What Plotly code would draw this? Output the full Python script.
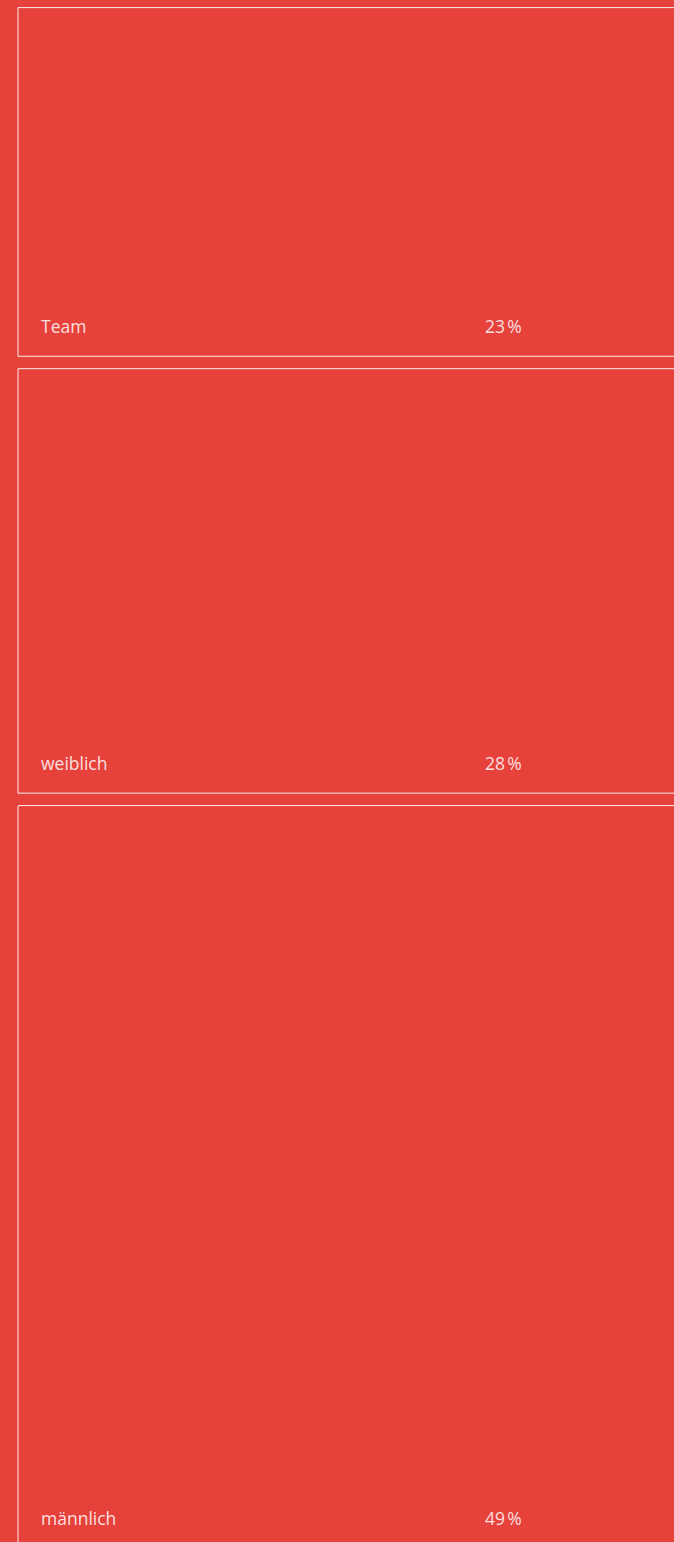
import plotly.graph_objects as go

categories = ["Team", "weiblich", "männlich"]
values = [23, 28, 49]
value_labels = ["23\u202f%", "28\u202f%", "49\u202f%"]

BG = "#E6423B"
LINE = "rgba(255,255,255,0.9)"
TXT = "rgba(255,255,255,0.85)"

px_per_unit = 15.16
gap = 12.4 / px_per_unit
top_px = 7.6
H, W = 1542, 674

bases = []
acc = 0.0
for v in values:
    bases.append(acc)
    acc += v + gap

fig = go.Figure()
fig.add_trace(go.Bar(
    x=[349] * len(values), y=values, base=bases, width=662,
    marker=dict(color="rgba(0,0,0,0)", line=dict(color=LINE, width=1)),
    hoverinfo="skip", showlegend=False,
))

for cat, lab, b, v in zip(categories, value_labels, bases, values):
    yy = b + v - 30.5 / px_per_unit
    fig.add_annotation(x=39, y=yy, text=cat, xanchor="left", yanchor="middle",
                       showarrow=False, font=dict(family="Open Sans", size=17.5, color=TXT))
    fig.add_annotation(x=483, y=yy, text=lab, xanchor="left", yanchor="middle",
                       showarrow=False, font=dict(family="Open Sans", size=17.5, color=TXT))

y0 = -top_px / px_per_unit
y1 = (H - top_px) / px_per_unit
fig.update_layout(
    width=W, height=H, margin=dict(l=0, r=0, t=0, b=0),
    paper_bgcolor=BG, plot_bgcolor=BG, barmode="overlay",
    xaxis=dict(range=[0, W], visible=False, fixedrange=True),
    yaxis=dict(range=[y1, y0], visible=False, fixedrange=True),
)
fig.write_html("out.html")
